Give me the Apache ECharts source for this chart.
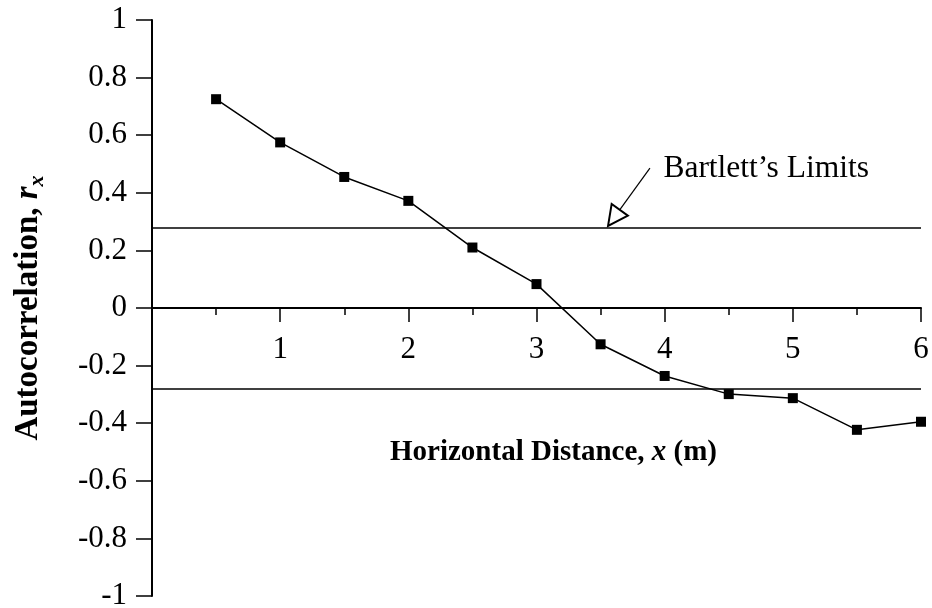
<!DOCTYPE html>
<html>
<head>
<meta charset="utf-8">
<script src="https://cdn.jsdelivr.net/npm/echarts@6/dist/echarts.min.js"></script>
<style>
  html, body { margin: 0; padding: 0; background: #fff; }
  #chart { width: 932px; height: 608px; }
</style>
</head>
<body>
<div id="chart"></div>
<script>
// Lag distances (m) and sample autocorrelation coefficients
const distance = [0.5, 1, 1.5, 2, 2.5, 3, 3.5, 4, 4.5, 5, 5.5, 6];
const autocorr = [0.725, 0.575, 0.455, 0.372, 0.21, 0.083, -0.126, -0.236, -0.299, -0.313, -0.423, -0.395];

// Bartlett's significance limits (±)
const bartlettLimit = 0.278;

// Tick labels
const xTickLabels = ['', '1', '2', '3', '4', '5', '6'];
const yTickLabels = ['-1', '-0.8', '-0.6', '-0.4', '-0.2', '0', '0.2', '0.4', '0.6', '0.8', '1'];

// Callout: label anchor, arrow tail and arrow head centre (data units)
const calloutText = 'Bartlett\u2019s Limits';
const calloutLabelAt = [3.99, 0.483];
const arrowFrom = [3.885, 0.486];
const arrowTo = [3.604, 0.313];

const FONT = '"Liberation Serif", "Times New Roman", serif';

const GRID_TOP = 20, GRID_BOTTOM = 12, CHART_H = 608;
// The horizontal axis sits on r = 0, i.e. half-way up the plot area
const zeroOffset = -(CHART_H - GRID_TOP - GRID_BOTTOM) / 2;

const chart = echarts.init(document.getElementById('chart'), null, { renderer: 'canvas' });

chart.setOption({
  animation: false,
  backgroundColor: '#ffffff',
  grid: {
    left: 152, right: 11, top: GRID_TOP, bottom: GRID_BOTTOM,
    containLabel: false,
    outerBoundsMode: 'none'
  },
  xAxis: {
    type: 'value',
    min: 0,
    max: 6,
    interval: 1,
    position: 'bottom',
    offset: zeroOffset,
    axisLine: { onZero: false, lineStyle: { color: '#000', width: 2 } },
    axisTick: { inside: false, length: 14, lineStyle: { color: '#000', width: 1.5 } },
    minorTick: { show: true, splitNumber: 2, length: 7, lineStyle: { color: '#000', width: 1.5 } },
    splitLine: { show: false },
    axisLabel: {
      margin: 26,
      color: '#000',
      fontFamily: FONT,
      fontSize: 31,
      formatter: v => xTickLabels[Math.round(v)] || ''
    },
    name: '{b|Horizontal Distance, }{bi|x}{b| (m)}',
    nameLocation: 'middle',
    nameGap: 128,
    nameTextStyle: {
      padding: [0, 0, 0, 34],
      rich: {
        b: { fontFamily: FONT, fontSize: 29, fontWeight: 'bold', color: '#000', lineHeight: 34 },
        bi: { fontFamily: FONT, fontSize: 29, fontWeight: 'bold', fontStyle: 'italic', color: '#000', lineHeight: 34 }
      }
    }
  },
  yAxis: {
    type: 'value',
    min: -1,
    max: 1,
    interval: 0.2,
    axisLine: { onZero: false, lineStyle: { color: '#000', width: 2 } },
    axisTick: { inside: false, length: 16, lineStyle: { color: '#000', width: 1.5 } },
    splitLine: { show: false },
    axisLabel: {
      margin: 25,
      color: '#000',
      fontFamily: FONT,
      fontSize: 31,
      formatter: v => yTickLabels[Math.round((v + 1) / 0.2)]
    },
    name: '{b|Autocorrelation, }{bi|r}{sub|x}',
    nameLocation: 'middle',
    nameRotate: 90,
    nameGap: 104,
    nameTextStyle: {
      rich: {
        b: { fontFamily: FONT, fontSize: 33, fontWeight: 'bold', color: '#000', lineHeight: 40 },
        bi: { fontFamily: FONT, fontSize: 33, fontWeight: 'bold', fontStyle: 'italic', color: '#000', lineHeight: 40 },
        sub: { fontFamily: FONT, fontSize: 22, fontWeight: 'bold', fontStyle: 'italic', color: '#000', lineHeight: 22, verticalAlign: 'bottom' }
      }
    }
  },
  series: [
    {
      name: 'Autocorrelation',
      type: 'line',
      data: distance.map((d, i) => [d, autocorr[i]]),
      symbol: 'rect',
      symbolSize: 10,
      lineStyle: { color: '#000', width: 1.5 },
      itemStyle: { color: '#000' },
      z: 5,
      markLine: {
        silent: true,
        symbol: ['none', 'none'],
        label: { show: false },
        lineStyle: { color: '#000', width: 1.5, type: 'solid' },
        data: [{ yAxis: bartlettLimit }, { yAxis: -bartlettLimit }]
      }
    },
    {
      name: 'callout',
      type: 'line',
      data: [],
      markLine: {
        silent: true,
        symbol: ['none', 'emptyTriangle'],
        symbolSize: [20, 20],
        label: { show: false },
        lineStyle: { color: '#000', width: 1.2, type: 'solid' },
        data: [[{ coord: arrowFrom }, { coord: arrowTo }]]
      },
      markPoint: {
        silent: true,
        symbol: 'circle',
        symbolSize: 0,
        label: {
          show: true,
          position: 'right',
          distance: 0,
          formatter: calloutText,
          color: '#000',
          fontFamily: FONT,
          fontSize: 31.5
        },
        data: [{ coord: calloutLabelAt }]
      }
    }
  ]
});
</script>
</body>
</html>
